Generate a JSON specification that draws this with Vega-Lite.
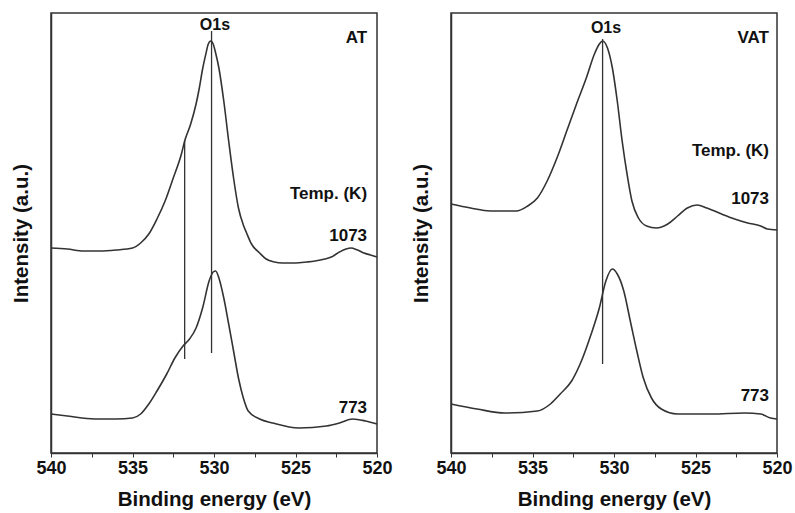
{
  "$schema": "https://vega.github.io/schema/vega-lite/v6.json",
  "background": "white",
  "padding": {"left": 10, "top": 12, "right": 5, "bottom": 0},
  "spacing": 74,
  "bounds": "flush",
  "datasets": {
    "spectra": [
      {"panel": "AT", "T": "1073", "E": 540, "I": 205},
      {"panel": "AT", "T": "1073", "E": 539, "I": 204},
      {"panel": "AT", "T": "1073", "E": 538, "I": 202},
      {"panel": "AT", "T": "1073", "E": 537, "I": 202},
      {"panel": "AT", "T": "1073", "E": 536, "I": 203},
      {"panel": "AT", "T": "1073", "E": 535, "I": 205},
      {"panel": "AT", "T": "1073", "E": 534.5, "I": 210},
      {"panel": "AT", "T": "1073", "E": 534, "I": 219},
      {"panel": "AT", "T": "1073", "E": 533.5, "I": 234},
      {"panel": "AT", "T": "1073", "E": 533, "I": 252},
      {"panel": "AT", "T": "1073", "E": 532.5, "I": 275},
      {"panel": "AT", "T": "1073", "E": 532, "I": 299},
      {"panel": "AT", "T": "1073", "E": 531.8, "I": 312},
      {"panel": "AT", "T": "1073", "E": 531.43, "I": 329},
      {"panel": "AT", "T": "1073", "E": 531.1, "I": 349},
      {"panel": "AT", "T": "1073", "E": 530.9, "I": 365},
      {"panel": "AT", "T": "1073", "E": 530.7, "I": 384},
      {"panel": "AT", "T": "1073", "E": 530.5, "I": 399},
      {"panel": "AT", "T": "1073", "E": 530.35, "I": 409},
      {"panel": "AT", "T": "1073", "E": 530.2, "I": 412},
      {"panel": "AT", "T": "1073", "E": 530.05, "I": 409},
      {"panel": "AT", "T": "1073", "E": 529.9, "I": 400},
      {"panel": "AT", "T": "1073", "E": 529.7, "I": 385},
      {"panel": "AT", "T": "1073", "E": 529.4, "I": 352},
      {"panel": "AT", "T": "1073", "E": 529.1, "I": 312},
      {"panel": "AT", "T": "1073", "E": 528.8, "I": 275},
      {"panel": "AT", "T": "1073", "E": 528.5, "I": 245},
      {"panel": "AT", "T": "1073", "E": 528.2, "I": 228},
      {"panel": "AT", "T": "1073", "E": 528, "I": 220},
      {"panel": "AT", "T": "1073", "E": 527.7, "I": 209},
      {"panel": "AT", "T": "1073", "E": 527.2, "I": 200},
      {"panel": "AT", "T": "1073", "E": 526.8, "I": 194},
      {"panel": "AT", "T": "1073", "E": 526.3, "I": 191},
      {"panel": "AT", "T": "1073", "E": 525.8, "I": 190},
      {"panel": "AT", "T": "1073", "E": 525, "I": 190},
      {"panel": "AT", "T": "1073", "E": 524.3, "I": 191},
      {"panel": "AT", "T": "1073", "E": 523.8, "I": 192},
      {"panel": "AT", "T": "1073", "E": 523.2, "I": 194},
      {"panel": "AT", "T": "1073", "E": 522.8, "I": 196},
      {"panel": "AT", "T": "1073", "E": 522.3, "I": 201},
      {"panel": "AT", "T": "1073", "E": 521.9, "I": 204},
      {"panel": "AT", "T": "1073", "E": 521.6, "I": 205},
      {"panel": "AT", "T": "1073", "E": 521.2, "I": 203},
      {"panel": "AT", "T": "1073", "E": 520.8, "I": 200},
      {"panel": "AT", "T": "1073", "E": 520.4, "I": 198},
      {"panel": "AT", "T": "1073", "E": 520, "I": 196},
      {"panel": "AT", "T": "773", "E": 540, "I": 39},
      {"panel": "AT", "T": "773", "E": 539, "I": 37},
      {"panel": "AT", "T": "773", "E": 538.1, "I": 35},
      {"panel": "AT", "T": "773", "E": 537.1, "I": 34},
      {"panel": "AT", "T": "773", "E": 536, "I": 34},
      {"panel": "AT", "T": "773", "E": 535, "I": 35},
      {"panel": "AT", "T": "773", "E": 534.5, "I": 39},
      {"panel": "AT", "T": "773", "E": 534, "I": 49},
      {"panel": "AT", "T": "773", "E": 533.5, "I": 62},
      {"panel": "AT", "T": "773", "E": 532.9, "I": 79},
      {"panel": "AT", "T": "773", "E": 532.4, "I": 95},
      {"panel": "AT", "T": "773", "E": 531.9, "I": 107},
      {"panel": "AT", "T": "773", "E": 531.5, "I": 114},
      {"panel": "AT", "T": "773", "E": 531.1, "I": 125},
      {"panel": "AT", "T": "773", "E": 530.7, "I": 145},
      {"panel": "AT", "T": "773", "E": 530.3, "I": 172},
      {"panel": "AT", "T": "773", "E": 530.05, "I": 181},
      {"panel": "AT", "T": "773", "E": 529.9, "I": 182},
      {"panel": "AT", "T": "773", "E": 529.7, "I": 175},
      {"panel": "AT", "T": "773", "E": 529.4, "I": 155},
      {"panel": "AT", "T": "773", "E": 529.1, "I": 129},
      {"panel": "AT", "T": "773", "E": 528.8, "I": 102},
      {"panel": "AT", "T": "773", "E": 528.5, "I": 75},
      {"panel": "AT", "T": "773", "E": 528.2, "I": 55},
      {"panel": "AT", "T": "773", "E": 527.9, "I": 42},
      {"panel": "AT", "T": "773", "E": 527.2, "I": 34},
      {"panel": "AT", "T": "773", "E": 526.4, "I": 30},
      {"panel": "AT", "T": "773", "E": 524.8, "I": 25},
      {"panel": "AT", "T": "773", "E": 523.1, "I": 27},
      {"panel": "AT", "T": "773", "E": 522.3, "I": 30},
      {"panel": "AT", "T": "773", "E": 521.5, "I": 34},
      {"panel": "AT", "T": "773", "E": 520.7, "I": 32},
      {"panel": "AT", "T": "773", "E": 520, "I": 29},
      {"panel": "VAT", "T": "1073", "E": 540, "I": 249},
      {"panel": "VAT", "T": "1073", "E": 538.8, "I": 245},
      {"panel": "VAT", "T": "1073", "E": 537.6, "I": 242},
      {"panel": "VAT", "T": "1073", "E": 536, "I": 242},
      {"panel": "VAT", "T": "1073", "E": 535.3, "I": 247},
      {"panel": "VAT", "T": "1073", "E": 534.7, "I": 255},
      {"panel": "VAT", "T": "1073", "E": 534.1, "I": 272},
      {"panel": "VAT", "T": "1073", "E": 533.5, "I": 295},
      {"panel": "VAT", "T": "1073", "E": 532.9, "I": 322},
      {"panel": "VAT", "T": "1073", "E": 532.3, "I": 349},
      {"panel": "VAT", "T": "1073", "E": 531.7, "I": 375},
      {"panel": "VAT", "T": "1073", "E": 531.2, "I": 399},
      {"panel": "VAT", "T": "1073", "E": 530.9, "I": 409},
      {"panel": "VAT", "T": "1073", "E": 530.7, "I": 412},
      {"panel": "VAT", "T": "1073", "E": 530.4, "I": 405},
      {"panel": "VAT", "T": "1073", "E": 530.1, "I": 385},
      {"panel": "VAT", "T": "1073", "E": 529.8, "I": 352},
      {"panel": "VAT", "T": "1073", "E": 529.5, "I": 312},
      {"panel": "VAT", "T": "1073", "E": 529.2, "I": 279},
      {"panel": "VAT", "T": "1073", "E": 528.9, "I": 252},
      {"panel": "VAT", "T": "1073", "E": 528.5, "I": 235},
      {"panel": "VAT", "T": "1073", "E": 528, "I": 227},
      {"panel": "VAT", "T": "1073", "E": 527.4, "I": 225},
      {"panel": "VAT", "T": "1073", "E": 526.7, "I": 229},
      {"panel": "VAT", "T": "1073", "E": 526.1, "I": 237},
      {"panel": "VAT", "T": "1073", "E": 525.5, "I": 245},
      {"panel": "VAT", "T": "1073", "E": 524.9, "I": 248},
      {"panel": "VAT", "T": "1073", "E": 524.3, "I": 245},
      {"panel": "VAT", "T": "1073", "E": 523.4, "I": 239},
      {"panel": "VAT", "T": "1073", "E": 522.6, "I": 234},
      {"panel": "VAT", "T": "1073", "E": 521.8, "I": 230},
      {"panel": "VAT", "T": "1073", "E": 521, "I": 227},
      {"panel": "VAT", "T": "1073", "E": 520.6, "I": 224},
      {"panel": "VAT", "T": "1073", "E": 520, "I": 223},
      {"panel": "VAT", "T": "773", "E": 540, "I": 49},
      {"panel": "VAT", "T": "773", "E": 538.4, "I": 44},
      {"panel": "VAT", "T": "773", "E": 536.7, "I": 40},
      {"panel": "VAT", "T": "773", "E": 534.7, "I": 42},
      {"panel": "VAT", "T": "773", "E": 533.9, "I": 49},
      {"panel": "VAT", "T": "773", "E": 533.3, "I": 59},
      {"panel": "VAT", "T": "773", "E": 532.6, "I": 72},
      {"panel": "VAT", "T": "773", "E": 532, "I": 92},
      {"panel": "VAT", "T": "773", "E": 531.4, "I": 119},
      {"panel": "VAT", "T": "773", "E": 530.9, "I": 145},
      {"panel": "VAT", "T": "773", "E": 530.5, "I": 172},
      {"panel": "VAT", "T": "773", "E": 530.1, "I": 184},
      {"panel": "VAT", "T": "773", "E": 529.8, "I": 179},
      {"panel": "VAT", "T": "773", "E": 529.4, "I": 162},
      {"panel": "VAT", "T": "773", "E": 529, "I": 132},
      {"panel": "VAT", "T": "773", "E": 528.6, "I": 102},
      {"panel": "VAT", "T": "773", "E": 528.2, "I": 75},
      {"panel": "VAT", "T": "773", "E": 527.7, "I": 55},
      {"panel": "VAT", "T": "773", "E": 527.1, "I": 44},
      {"panel": "VAT", "T": "773", "E": 526.1, "I": 39},
      {"panel": "VAT", "T": "773", "E": 524, "I": 39},
      {"panel": "VAT", "T": "773", "E": 522, "I": 40},
      {"panel": "VAT", "T": "773", "E": 521, "I": 39},
      {"panel": "VAT", "T": "773", "E": 520.4, "I": 35},
      {"panel": "VAT", "T": "773", "E": 520, "I": 34}
    ],
    "markers": [
      {"panel": "AT", "E": 531.8, "top": 312, "bottom": 94},
      {"panel": "AT", "E": 530.15, "top": 422, "bottom": 100},
      {"panel": "VAT", "E": 530.7, "top": 414, "bottom": 89}
    ],
    "peaklabels": [
      {"panel": "AT", "E": 529.94, "I": 428, "label": "O1s"},
      {"panel": "VAT", "E": 530.49, "I": 425, "label": "O1s"}
    ],
    "labels": [
      {"panel": "AT", "E": 520.61, "I": 415, "label": "AT"},
      {"panel": "AT", "E": 520.61, "I": 259, "label": "Temp. (K)"},
      {"panel": "AT", "E": 520.61, "I": 217, "label": "1073"},
      {"panel": "AT", "E": 520.61, "I": 45, "label": "773"},
      {"panel": "VAT", "E": 520.49, "I": 415, "label": "VAT"},
      {"panel": "VAT", "E": 520.49, "I": 302, "label": "Temp. (K)"},
      {"panel": "VAT", "E": 520.49, "I": 254, "label": "1073"},
      {"panel": "VAT", "E": 520.49, "I": 57, "label": "773"}
    ]
  },
  "config": {
    "view": {"stroke": "#333", "strokeWidth": 1.5},
    "axis": {
      "grid": false,
      "domainColor": "#333",
      "domainWidth": 1.5,
      "tickColor": "#333",
      "labelColor": "#111",
      "titleColor": "#111",
      "labelFont": "Liberation Sans",
      "titleFont": "Liberation Sans",
      "labelFontWeight": "bold",
      "titleFontWeight": "bold",
      "labelFontSize": 18,
      "titleFontSize": 20.5
    }
  },
  "hconcat": [
    {
      "width": 326,
      "height": 440,
      "layer": [
        {
          "data": {"name": "spectra"},
          "transform": [{"filter": "datum.panel == 'AT'"}],
          "mark": {"type": "line", "color": "#333", "strokeWidth": 1.6, "interpolate": "monotone"},
          "encoding": {
            "x": {"field": "E", "type": "quantitative", "scale": {"domain": [520, 540], "reverse": true, "nice": false, "zero": false},
              "axis": {"title": "Binding energy (eV)", "values": [520, 522.5, 525, 527.5, 530, 532.5, 535, 537.5, 540], "labelExpr": "datum.value % 5 == 0 ? datum.label : ''", "tickSize": 4, "labelPadding": 2, "titlePadding": 12, "labelFlush": false}},
            "y": {"field": "I", "type": "quantitative", "scale": {"domain": [0, 440], "nice": false},
              "axis": {"title": "Intensity (a.u.)", "labels": false, "ticks": false, "titlePadding": 20}},
            "detail": {"field": "T"}
          }
        },
        {
          "data": {"name": "markers"},
          "transform": [{"filter": "datum.panel == 'AT'"}],
          "mark": {"type": "rule", "color": "#333", "strokeWidth": 1.3},
          "encoding": {
            "x": {"field": "E", "type": "quantitative"},
            "y": {"field": "top", "type": "quantitative"},
            "y2": {"field": "bottom"}
          }
        },
        {
          "data": {"name": "peaklabels"},
          "transform": [{"filter": "datum.panel == 'AT'"}],
          "mark": {"type": "text", "align": "center", "baseline": "middle", "font": "Liberation Sans", "fontSize": 16, "fontWeight": "bold", "color": "#111"},
          "encoding": {
            "x": {"field": "E", "type": "quantitative"},
            "y": {"field": "I", "type": "quantitative"},
            "text": {"field": "label"}
          }
        },
        {
          "data": {"name": "labels"},
          "transform": [{"filter": "datum.panel == 'AT'"}],
          "mark": {"type": "text", "align": "right", "baseline": "middle", "font": "Liberation Sans", "fontSize": 17, "fontWeight": "bold", "color": "#111"},
          "encoding": {
            "x": {"field": "E", "type": "quantitative"},
            "y": {"field": "I", "type": "quantitative"},
            "text": {"field": "label"}
          }
        }
      ]
    },
    {
      "width": 326,
      "height": 440,
      "layer": [
        {
          "data": {"name": "spectra"},
          "transform": [{"filter": "datum.panel == 'VAT'"}],
          "mark": {"type": "line", "color": "#333", "strokeWidth": 1.6, "interpolate": "monotone"},
          "encoding": {
            "x": {"field": "E", "type": "quantitative", "scale": {"domain": [520, 540], "reverse": true, "nice": false, "zero": false},
              "axis": {"title": "Binding energy (eV)", "values": [520, 522.5, 525, 527.5, 530, 532.5, 535, 537.5, 540], "labelExpr": "datum.value % 5 == 0 ? datum.label : ''", "tickSize": 4, "labelPadding": 2, "titlePadding": 12, "labelFlush": false}},
            "y": {"field": "I", "type": "quantitative", "scale": {"domain": [0, 440], "nice": false},
              "axis": {"title": "Intensity (a.u.)", "labels": false, "ticks": false, "titlePadding": 20}},
            "detail": {"field": "T"}
          }
        },
        {
          "data": {"name": "markers"},
          "transform": [{"filter": "datum.panel == 'VAT'"}],
          "mark": {"type": "rule", "color": "#333", "strokeWidth": 1.3},
          "encoding": {
            "x": {"field": "E", "type": "quantitative"},
            "y": {"field": "top", "type": "quantitative"},
            "y2": {"field": "bottom"}
          }
        },
        {
          "data": {"name": "peaklabels"},
          "transform": [{"filter": "datum.panel == 'VAT'"}],
          "mark": {"type": "text", "align": "center", "baseline": "middle", "font": "Liberation Sans", "fontSize": 16, "fontWeight": "bold", "color": "#111"},
          "encoding": {
            "x": {"field": "E", "type": "quantitative"},
            "y": {"field": "I", "type": "quantitative"},
            "text": {"field": "label"}
          }
        },
        {
          "data": {"name": "labels"},
          "transform": [{"filter": "datum.panel == 'VAT'"}],
          "mark": {"type": "text", "align": "right", "baseline": "middle", "font": "Liberation Sans", "fontSize": 17, "fontWeight": "bold", "color": "#111"},
          "encoding": {
            "x": {"field": "E", "type": "quantitative"},
            "y": {"field": "I", "type": "quantitative"},
            "text": {"field": "label"}
          }
        }
      ]
    }
  ]
}
